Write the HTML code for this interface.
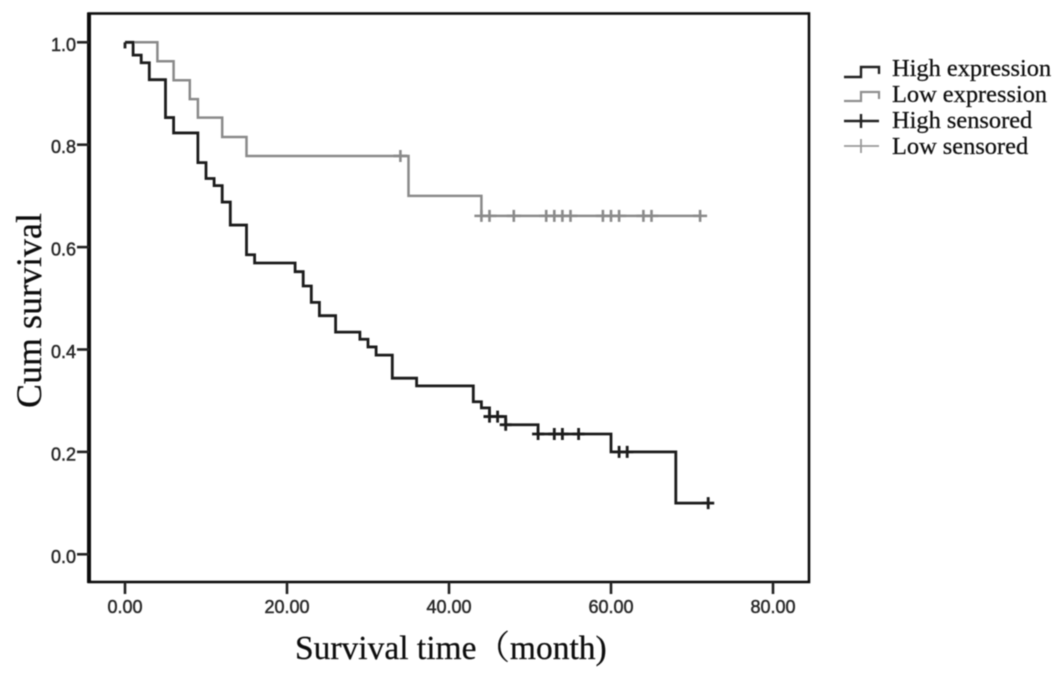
<!DOCTYPE html>
<html lang="en">
<head>
<meta charset="utf-8">
<title>Kaplan-Meier survival chart</title>
<style>
html,body{margin:0;padding:0;background:#fff;}
body{width:1063px;height:674px;overflow:hidden;}
svg{display:block;}
.tick-label{font-family:"Liberation Sans",sans-serif;font-size:18px;fill:#2b2b2b;stroke:#2b2b2b;stroke-width:.5px;}
.axis-title,.legend-label{font-family:"Liberation Serif","Noto Serif CJK SC",serif;fill:#111;stroke:#111;stroke-width:.25px;}
.axis-title{font-size:36px;}
.legend-label{font-size:24.4px;}
</style>
</head>
<body>
<svg id="chart" width="1063" height="674" viewBox="0 0 1063 674" xmlns="http://www.w3.org/2000/svg">
  <defs><filter id="soft" x="-5%" y="-5%" width="110%" height="110%"><feGaussianBlur stdDeviation="0.4"/></filter></defs>
  <rect width="1063" height="674" fill="#fff"/>
  <g id="root" filter="url(#soft)">
    <rect x="89" y="13.5" width="720" height="568.5" fill="none" stroke="#111" stroke-width="2.6"/>
    <line x1="89" x2="89" y1="12.5" y2="583" stroke="#111" stroke-width="4"/>
    <g id="x-axis"></g>
    <g id="y-axis"></g>
    <g id="series"></g>
    <text class="axis-title" transform="translate(41,408) rotate(-90)">Cum survival</text>
    <text class="axis-title" x="295" y="659" style="font-size:33.5px">Survival time（month)</text>
    <g>
      <g>
        <path d="M844 77H861V67H879V74" fill="none" stroke="#222" stroke-width="2.4"/>
        <text class="legend-label" x="892" y="76">High expression</text>
      </g>
      <g>
        <path d="M844 101H861V92H879V99" fill="none" stroke="#8f8f8f" stroke-width="2.2"/>
        <text class="legend-label" x="892" y="102">Low expression</text>
      </g>
      <g>
        <path d="M844 121H879M861 114V128" fill="none" stroke="#222" stroke-width="2.4"/>
        <text class="legend-label" x="892" y="128">High sensored</text>
      </g>
      <g>
        <path d="M844 146H879M861 139V153" fill="none" stroke="#9a9a9a" stroke-width="1.8"/>
        <text class="legend-label" x="892" y="154">Low sensored</text>
      </g>
    </g>
  </g>
</svg>
<script>
const xTickValues = [0, 20, 40, 60, 80];
const xTickLabels = ["0.00", "20.00", "40.00", "60.00", "80.00"];
const yTickValues = [0, 0.2, 0.4, 0.6, 0.8, 1];
const yTickLabels = ["0.0", "0.2", "0.4", "0.6", "0.8", "1.0"];

const highTimes = [1, 2, 3, 5, 6, 9, 10, 11, 12, 13, 15, 16, 21, 22, 23, 24, 26, 29, 30, 31, 33, 36, 43, 44, 45, 47, 51, 60, 68];
const highSurvival = [0.975, 0.96, 0.927, 0.853, 0.823, 0.765, 0.734, 0.72, 0.688, 0.643, 0.585, 0.569, 0.552, 0.524, 0.492, 0.466, 0.434, 0.42, 0.405, 0.389, 0.344, 0.329, 0.298, 0.286, 0.269, 0.253, 0.235, 0.2, 0.1];
const highEndTime = 72;
const highCensorTimes = [45, 46, 47, 51, 53, 54, 56, 61, 62, 72];

const lowTimes = [4, 6, 8, 9, 12, 15, 35, 44];
const lowSurvival = [0.963, 0.926, 0.889, 0.853, 0.815, 0.778, 0.70, 0.661];
const lowEndTime = 71;
const lowCensorTimes = [34, 44, 45, 48, 52, 53, 54, 55, 59, 60, 61, 64, 65, 71];

const NS = "http://www.w3.org/2000/svg";
function xScale(t) { return 125 + t * 8.1; }
function yScale(s) { return 554.3 - s * 512; }
function make(parent, tag, attrs) {
  const el = document.createElementNS(NS, tag);
  for (const k in attrs) el.setAttribute(k, attrs[k]);
  parent.appendChild(el);
  return el;
}
function stepPath(times, surv, end) {
  let d = "M" + xScale(0) + " " + yScale(1);
  times.forEach(function (t, i) {
    d += "H" + xScale(t) + "V" + yScale(surv[i]);
  });
  return d + "H" + xScale(end);
}
function survivalAt(t, times, surv) {
  let s = 1;
  times.forEach(function (tt, i) { if (tt <= t) s = surv[i]; });
  return s;
}

const xAxis = document.getElementById("x-axis");
xTickValues.forEach(function (v, i) {
  const tick = make(xAxis, "line", { x1: xScale(v), x2: xScale(v), y1: 582, y2: 594, stroke: "#222", "stroke-width": 2.6 });
  
  
  const label = make(xAxis, "text", { x: xScale(v), y: 613, "text-anchor": "middle", class: "tick-label" });
  
  
  label.textContent = xTickLabels[i];
});

const yAxis = document.getElementById("y-axis");
yTickValues.forEach(function (v, i) {
  const tick = make(yAxis, "line", { x1: 77, x2: 89, y1: yScale(v), y2: yScale(v), stroke: "#222", "stroke-width": 2.6 });
  
  
  const label = make(yAxis, "text", { x: 76, y: yScale(v) + 8.5, "text-anchor": "end", class: "tick-label" });
  
  
  label.textContent = yTickLabels[i];
});

const seriesGroup = document.getElementById("series");

const lowLine = make(seriesGroup, "path", { d: stepPath(lowTimes, lowSurvival, lowEndTime), fill: "none", stroke: "#8a8a8a", "stroke-width": 2.5 });



lowCensorTimes.forEach(function (t) {
  const x = xScale(t), y = yScale(survivalAt(t, lowTimes, lowSurvival));
  const mark = make(seriesGroup, "path", { d: "M" + (x - 7) + " " + y + "H" + (x + 7) + "M" + x + " " + (y - 6) + "V" + (y + 6), fill: "none", stroke: "#8a8a8a", "stroke-width": 2.6 });
  
  
});

const highStub = make(seriesGroup, "path", { d: "M" + xScale(0) + " " + yScale(0.988) + "V" + yScale(1), fill: "none", stroke: "#222", "stroke-width": 2.8 });



const highLine = make(seriesGroup, "path", { d: stepPath(highTimes, highSurvival, highEndTime), fill: "none", stroke: "#1c1c1c", "stroke-width": 2.8 });



highCensorTimes.forEach(function (t) {
  const x = xScale(t), y = yScale(survivalAt(t, highTimes, highSurvival));
  const mark = make(seriesGroup, "path", { d: "M" + (x - 6) + " " + y + "H" + (x + 6) + "M" + x + " " + (y - 6) + "V" + (y + 6), fill: "none", stroke: "#1c1c1c", "stroke-width": 2.8 });
  
  
});
</script>
</body>
</html>
